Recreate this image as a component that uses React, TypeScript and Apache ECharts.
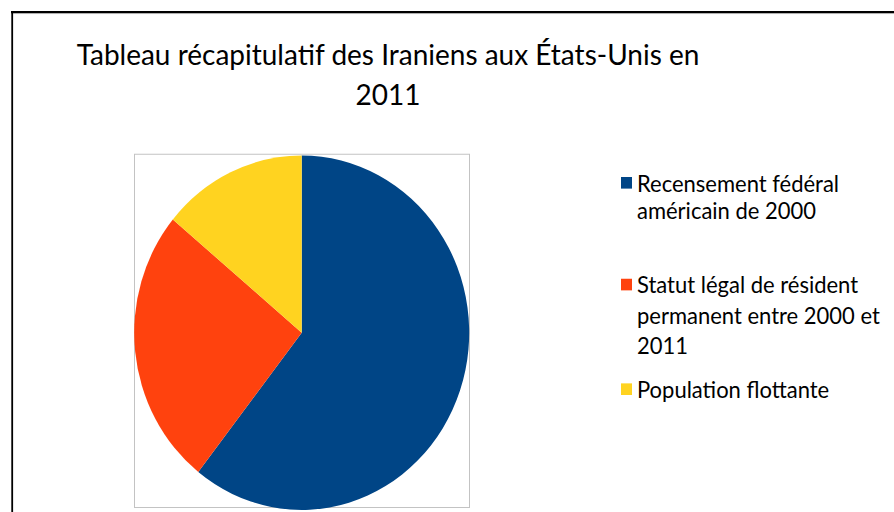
import React, { useEffect, useRef } from "react";
import * as echarts from "echarts";

// ---- data ----
const categories = [
  "Recensement fédéral américain de 2000",
  "Statut légal de résident permanent entre 2000 et 2011",
  "Population flottante",
];
const values = [338266, 142000, 78000];
const colors = ["#004586", "#ff420e", "#ffd320"];
const legendLines = [
  ["Recensement fédéral", "américain de 2000"],
  ["Statut légal de résident", "permanent entre 2000 et", "2011"],
  ["Population flottante"],
];
const titleLines = ["Tableau récapitulatif des Iraniens aux États-Unis en", "2011"];

// ---- layout (inner, unscaled coordinates) ----
const W = 894;
const H = 484;
const SCALE_Y = 512 / H;
const FONT = "Lato, 'Open Sans', sans-serif";
const legendLeft = 621;
const legendTextX = 637;
const legendLineCenters = [
  [172.8, 199.2],
  [269.0, 297.8, 326.6],
  [367.9],
];

export default function App() {
  const ref = useRef<HTMLDivElement>(null);
  useEffect(() => {
    if (!ref.current) return;
    const chart = echarts.init(ref.current, undefined, { renderer: "svg" });

    const legends = categories.map((name, i) => ({
      data: [name],
      orient: "vertical",
      left: legendLeft,
      top: legendLineCenters[i][0] - 11,
      padding: 0,
      itemWidth: 11,
      itemHeight: 11,
      icon: "rect",
      selectedMode: false,
      formatter: () => legendLines[i][0],
      textStyle: { fontFamily: FONT, fontSize: 22, color: "#000", lineHeight: 22 },
    }));

    const contLines: any[] = [];
    legendLines.forEach((lines, i) => {
      lines.slice(1).forEach((t, j) => {
        contLines.push({
          type: "text",
          x: legendTextX,
          y: legendLineCenters[i][j + 1],
          style: {
            text: t,
            fontFamily: FONT,
            fontSize: 22,
            fill: "#000",
            verticalAlign: "middle",
            align: "left",
          },
        });
      });
    });

    chart.setOption({
      animation: false,
      backgroundColor: "#ffffff",
      color: colors,
      title: {
        text: titleLines.join("\n"),
        left: 388,
        top: 32,
        padding: 0,
        textAlign: "center",
        textStyle: {
          fontFamily: FONT,
          fontSize: 28,
          fontWeight: "normal",
          color: "#000",
          lineHeight: 38,
        },
      },
      legend: legends,
      graphic: [
        {
          type: "rect",
          shape: { x: 134.5, y: 145.8, width: 335, height: 334 },
          style: { fill: "none", stroke: "#c3c3c3", lineWidth: 1 },
          z: 0,
        },
        {
          type: "line",
          shape: { x1: 11, y1: 11.3, x2: W, y2: 11.3 },
          style: { stroke: "#000", lineWidth: 1.9 },
        },
        {
          type: "line",
          shape: { x1: 11, y1: 12.8, x2: W, y2: 12.8 },
          style: { stroke: "#9a9a9a", lineWidth: 0.8 },
        },
        {
          type: "line",
          shape: { x1: 12.2, y1: 10.4, x2: 12.2, y2: H },
          style: { stroke: "#000", lineWidth: 1.8 },
        },
        ...contLines,
      ],
      series: [
        {
          type: "pie",
          center: [301.7, 314.5],
          radius: 167.5,
          startAngle: 90,
          clockwise: true,
          label: { show: false },
          labelLine: { show: false },
          emphasis: { disabled: true },
          itemStyle: { borderWidth: 0 },
          data: categories.map((name, i) => ({
            name,
            value: values[i],
            itemStyle: { color: colors[i] },
          })),
        },
      ],
    });
    return () => chart.dispose();
  }, []);

  return (
    <div
      style={{
        position: "absolute",
        left: 0,
        top: 0,
        width: W,
        height: 512,
        background: "#fff",
        overflow: "hidden",
      }}
    >
      <div
        ref={ref}
        style={{
          width: W,
          height: H,
          transform: `scaleY(${SCALE_Y})`,
          transformOrigin: "0 0",
        }}
      />
    </div>
  );
}
